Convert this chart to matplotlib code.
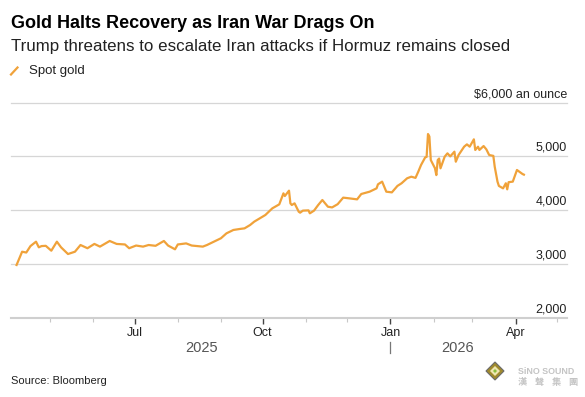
import matplotlib
matplotlib.use("Agg")
import matplotlib.pyplot as plt
import matplotlib.dates as mdates
import matplotlib.transforms as mtransforms
from matplotlib.lines import Line2D
from matplotlib.patches import Polygon
import pandas as pd

plt.rcParams["font.family"] = ["Liberation Sans", "DejaVu Sans"]

# spot gold
dates = [
    "2025-04-07", "2025-04-11", "2025-04-14", "2025-04-17", "2025-04-21", "2025-04-23", "2025-04-25", "2025-04-28",
    "2025-05-02", "2025-05-06", "2025-05-09", "2025-05-14", "2025-05-19", "2025-05-23", "2025-05-28",
    "2025-06-02", "2025-06-06", "2025-06-13", "2025-06-18", "2025-06-24", "2025-06-27",
    "2025-07-02", "2025-07-07", "2025-07-11", "2025-07-16", "2025-07-22", "2025-07-25", "2025-07-30",
    "2025-08-01", "2025-08-07", "2025-08-11", "2025-08-19", "2025-08-22",
    "2025-09-01", "2025-09-05", "2025-09-10", "2025-09-15", "2025-09-18", "2025-09-22", "2025-09-25", "2025-09-29",
    "2025-10-03", "2025-10-08", "2025-10-13", "2025-10-16", "2025-10-17", "2025-10-20", "2025-10-21", "2025-10-22",
    "2025-10-24", "2025-10-27", "2025-10-28", "2025-10-30",
    "2025-11-03", "2025-11-04", "2025-11-07", "2025-11-10", "2025-11-13", "2025-11-17", "2025-11-20", "2025-11-24",
    "2025-11-28",
    "2025-12-02", "2025-12-08", "2025-12-11", "2025-12-17", "2025-12-22", "2025-12-23", "2025-12-26", "2025-12-29",
    "2026-01-02", "2026-01-06", "2026-01-09", "2026-01-13", "2026-01-16", "2026-01-19", "2026-01-21", "2026-01-23",
    "2026-01-26", "2026-01-27", "2026-01-28", "2026-01-29", "2026-01-30",
    "2026-02-02", "2026-02-03", "2026-02-04", "2026-02-05", "2026-02-06", "2026-02-09", "2026-02-11", "2026-02-13",
    "2026-02-16", "2026-02-17", "2026-02-19", "2026-02-23", "2026-02-25", "2026-02-27",
    "2026-03-02", "2026-03-03", "2026-03-05", "2026-03-06", "2026-03-09", "2026-03-11", "2026-03-13", "2026-03-16",
    "2026-03-17", "2026-03-19", "2026-03-20", "2026-03-23", "2026-03-25", "2026-03-26", "2026-03-27", "2026-03-30",
    "2026-04-02", "2026-04-06", "2026-04-07",
]
prices = [
    2978, 3225, 3210, 3330, 3412, 3307, 3330, 3335,
    3244, 3412, 3307, 3182, 3225, 3350, 3290,
    3370, 3320, 3425, 3370, 3360, 3290,
    3340, 3320, 3350, 3335, 3425, 3340, 3270,
    3360, 3380, 3340, 3320, 3350,
    3475, 3567, 3630, 3650, 3660, 3722, 3785, 3847,
    3909, 4033, 4107, 4312, 4262, 4362, 4126, 4095,
    4126, 3970, 3952, 3990,
    3995, 3940, 3990, 4095, 4188, 4063, 4050, 4110,
    4232,
    4220, 4200, 4300, 4343, 4405, 4480, 4530, 4343,
    4330, 4450, 4500, 4593, 4622, 4600, 4715, 4840,
    4983, 4990, 5417, 5370, 4933,
    4780, 4652, 4933, 4960, 4778, 4995, 5057, 5000,
    5088, 4901, 5026, 5181, 5224, 5181,
    5318, 5120, 5180, 5120, 5193, 5130, 5026, 5010,
    4808, 4529, 4450, 4405, 4500, 4387, 4520, 4530,
    4747, 4672, 4660,
]

y_ticks = [2000, 3000, 4000, 5000, 6000]
y_labels = ["2,000", "3,000", "4,000", "5,000", "$6,000 an ounce"]
years = ["2025", "2026"]

GOLD = "#F0A23A"
GRID = "#d6d6d6"

s = pd.Series(prices, index=pd.to_datetime(dates))

fig = plt.figure(figsize=(5.85, 3.97), dpi=100)
ax = fig.add_axes([11 / 585, 79.5 / 397, 556 / 585, 214.8 / 397])

ax.plot(s.index, s.values, color=GOLD, lw=1.6, solid_joinstyle="round", zorder=3)

ax.set_xlim(pd.Timestamp("2025-04-03"), pd.Timestamp("2026-05-08"))
ax.set_ylim(2000, 6000)

for sp in ["top", "right", "left"]:
    ax.spines[sp].set_visible(False)
ax.spines["bottom"].set_color("#cfcfcf")
ax.spines["bottom"].set_linewidth(1.5)

# horizontal grid + labels sitting on top of each line
for v, lab in zip(y_ticks, y_labels):
    if v > 2000:
        ax.axhline(v, color=GRID, lw=0.9, zorder=1, clip_on=False)
    ax.annotate(lab, xy=(1, v), xycoords=("axes fraction", "data"),
                xytext=(0, 3.9), textcoords="offset points",
                ha="right", va="baseline", fontsize=9, color="#222222")
ax.set_yticks([])

# month ticks
ax.xaxis.set_major_locator(mdates.MonthLocator(bymonth=[1, 4, 7, 10]))
ax.xaxis.set_minor_locator(mdates.MonthLocator())
ax.tick_params(axis="x", which="major", length=4, width=1, color="#444444", labelbottom=False)
ax.tick_params(axis="x", which="minor", length=3, width=0.8, color="#c8c8c8")

for d in pd.date_range("2025-07-01", "2026-04-01", freq="3MS"):
    ax.annotate(d.strftime("%b"), xy=(mdates.date2num(d), 0), xycoords=("data", "axes fraction"),
                xytext=(0, -13.3), textcoords="offset points",
                ha="center", va="baseline", fontsize=9, color="#222222")

# year labels centred on each year's stretch of data
for yr in years:
    part = s[s.index.year == int(yr)]
    mid = part.index[0] + (part.index[-1] - part.index[0]) / 2
    ax.annotate(yr, xy=(mdates.date2num(mid), 0), xycoords=("data", "axes fraction"),
                xytext=(0, -24.5), textcoords="offset points",
                ha="center", va="baseline", fontsize=10.5, color="#555555")

trans = mtransforms.blended_transform_factory(ax.transData, ax.transAxes)
jan = pd.Timestamp("2026-01-01")
ax.plot([jan, jan], [-0.113, -0.167], transform=trans, color="#777777", lw=0.9, clip_on=False)

# header
fig.text(11 / 585, 1 - 27.5 / 397, "Gold Halts Recovery as Iran War Drags On",
         fontsize=13, fontweight="bold", color="#000000", va="baseline")
fig.text(11 / 585, 1 - 51.5 / 397, "Trump threatens to escalate Iran attacks if Hormuz remains closed",
         fontsize=12.2, color="#222222", va="baseline")
fig.add_artist(Line2D([11 / 585, 17.5 / 585], [1 - 74.5 / 397, 1 - 67.5 / 397],
                      color=GOLD, lw=1.6, transform=fig.transFigure))
fig.text(29 / 585, 1 - 74 / 397, "Spot gold", fontsize=9.5, color="#222222", va="baseline")

fig.text(11 / 585, 1 - 384 / 397, "Source: Bloomberg", fontsize=8, color="#222222", va="baseline")

# watermark logo, bottom right
def fpt(x, y):
    return (x / 585, 1 - y / 397)

fig.add_artist(Polygon([fpt(495, 362), fpt(504, 371), fpt(495, 380), fpt(486, 371)],
                       closed=True, transform=fig.transFigure, facecolor="#a08a2c", edgecolor="#6b6b6b", lw=0.8))
fig.add_artist(Polygon([fpt(495, 366), fpt(500, 371), fpt(495, 376), fpt(490, 371)],
                       closed=True, transform=fig.transFigure, facecolor="#efe6b0", edgecolor="none"))
fig.add_artist(Polygon([fpt(495, 369), fpt(497, 371), fpt(495, 373), fpt(493, 371)],
                       closed=True, transform=fig.transFigure, facecolor="#8cbf3f", edgecolor="none"))
fig.text(518 / 585, 1 - 374 / 397, "SiNO SOUND", fontsize=6.4, fontweight="bold",
         color="#c4c4c4", va="baseline")
for i, ch in enumerate("漢聲集團"):
    fig.text((522 + i * 17) / 585, 1 - 384.5 / 397, ch, fontsize=6.6, fontweight="bold",
             color="#c4c4c4", va="baseline", ha="center",
             family=["Noto Sans CJK TC", "DejaVu Sans"])

fig.savefig("out.png", dpi=100)
